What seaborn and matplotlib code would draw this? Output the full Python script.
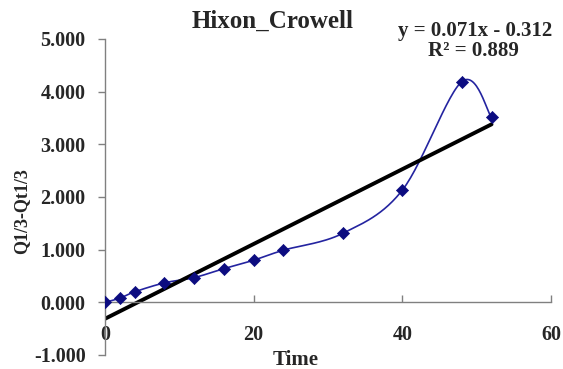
import numpy as np
import pandas as pd
import matplotlib
matplotlib.use("Agg")
import matplotlib.pyplot as plt
import seaborn as sns

# Hixon-Crowell cube-root release data
time = [0, 2, 4, 8, 12, 16, 20, 24, 32, 40, 48, 52]
cube_root_diff = [0.000, 0.08, 0.20, 0.37, 0.47, 0.64, 0.80, 0.99, 1.31, 2.13, 4.19, 3.51]

slope = 0.071
intercept = -0.312
r_squared = 0.889

x_ticks = [0, 20, 40, 60]
y_ticks = [-1, 0, 1, 2, 3, 4, 5]
y_tick_labels = ["-1.000", "0.000", "1.000", "2.000", "3.000", "4.000", "5.000"]


def smooth_curve(xs, ys, steps=30):
    """Cubic Bezier smoothing through every point (Catmull-Rom style control points)."""
    p = np.column_stack([xs, ys]).astype(float)
    n = len(p)
    out = []
    for i in range(n - 1):
        p0 = p[i - 1] if i > 0 else p[i]
        p1 = p[i]
        p2 = p[i + 1]
        p3 = p[i + 2] if i + 2 < n else p[i + 1]
        c1 = p1 + (p2 - p0) / 6.0
        c2 = p2 - (p3 - p1) / 6.0
        t = np.linspace(0, 1, steps, endpoint=(i == n - 2))[:, None]
        seg = ((1 - t) ** 3) * p1 + 3 * ((1 - t) ** 2) * t * c1 + 3 * (1 - t) * t ** 2 * c2 + t ** 3 * p2
        out.append(seg)
    seg = np.vstack(out)
    return seg[:, 0], seg[:, 1]


sns.set_theme(style="white")
plt.rcParams["font.family"] = ["Liberation Serif", "DejaVu Serif"]
plt.rcParams["font.weight"] = "bold"

df = pd.DataFrame({"Time": time, "Q": cube_root_diff})
sx, sy = smooth_curve(df["Time"].values, df["Q"].values)
curve = pd.DataFrame({"Time": sx, "Q": sy})
fit_x = np.array([min(time), max(time)])
trend = pd.DataFrame({"Time": fit_x, "Q": slope * fit_x + intercept})

fig = plt.figure(figsize=(5.63, 3.69), dpi=100)
ax = fig.add_axes([105 / 563, 14 / 369, 446 / 563, 316 / 369])

sns.lineplot(data=curve, x="Time", y="Q", ax=ax, color="#2424a0", linewidth=1.2, sort=False)
sns.lineplot(data=trend, x="Time", y="Q", ax=ax, color="black", linewidth=2.8)
sns.scatterplot(data=df, x="Time", y="Q", ax=ax, marker="D", s=38, color="#0c0c80",
                edgecolor="#0c0c80", linewidth=0.5, zorder=5)

# axis frame: left spine plus a horizontal axis through y = 0
for side in ["top", "right"]:
    ax.spines[side].set_visible(False)
ax.spines["bottom"].set_position(("data", 0))
for side in ["left", "bottom"]:
    ax.spines[side].set_color("#808080")
    ax.spines[side].set_linewidth(1.0)

ax.set_xlim(0, 60)
ax.set_ylim(-1, 5)
ax.set_xticks(x_ticks)
ax.set_xticklabels([str(v) for v in x_ticks])
ax.set_yticks(y_ticks)
ax.set_yticklabels(y_tick_labels)
for lbl in ax.get_xticklabels() + ax.get_yticklabels():
    lbl.set_fontweight("bold")

ax.tick_params(axis="y", direction="out", length=5, width=1, color="#808080", pad=9, left=True,
               labelsize=14.5)
ax.tick_params(axis="x", direction="in", length=5, width=1, color="#808080", pad=16, bottom=True,
               labelsize=14.5)

ax.set_xlabel("")
ax.set_ylabel("")
fig.text(296 / 563, 1 - 360 / 369, "Time", ha="center", va="center", fontsize=15, fontweight="bold")
fig.text(22 / 563, 1 - 211 / 369, "Q1/3-Qt1/3", ha="center", va="center", rotation=90,
         fontsize=13, fontweight="bold")
fig.text(273 / 563, 1 - 21 / 369, "Hixon_Crowell", ha="center", va="center", fontsize=18, fontweight="bold")
fig.text(475 / 563, 1 - 31 / 369, f"y = {slope:.3f}x - {abs(intercept):.3f}", ha="center", va="center",
         fontsize=15, fontweight="bold")
fig.text(473 / 563, 1 - 51 / 369, f"R² = {r_squared:.3f}", ha="center", va="center",
         fontsize=15, fontweight="bold")

fig.savefig("out.png", dpi=100)
